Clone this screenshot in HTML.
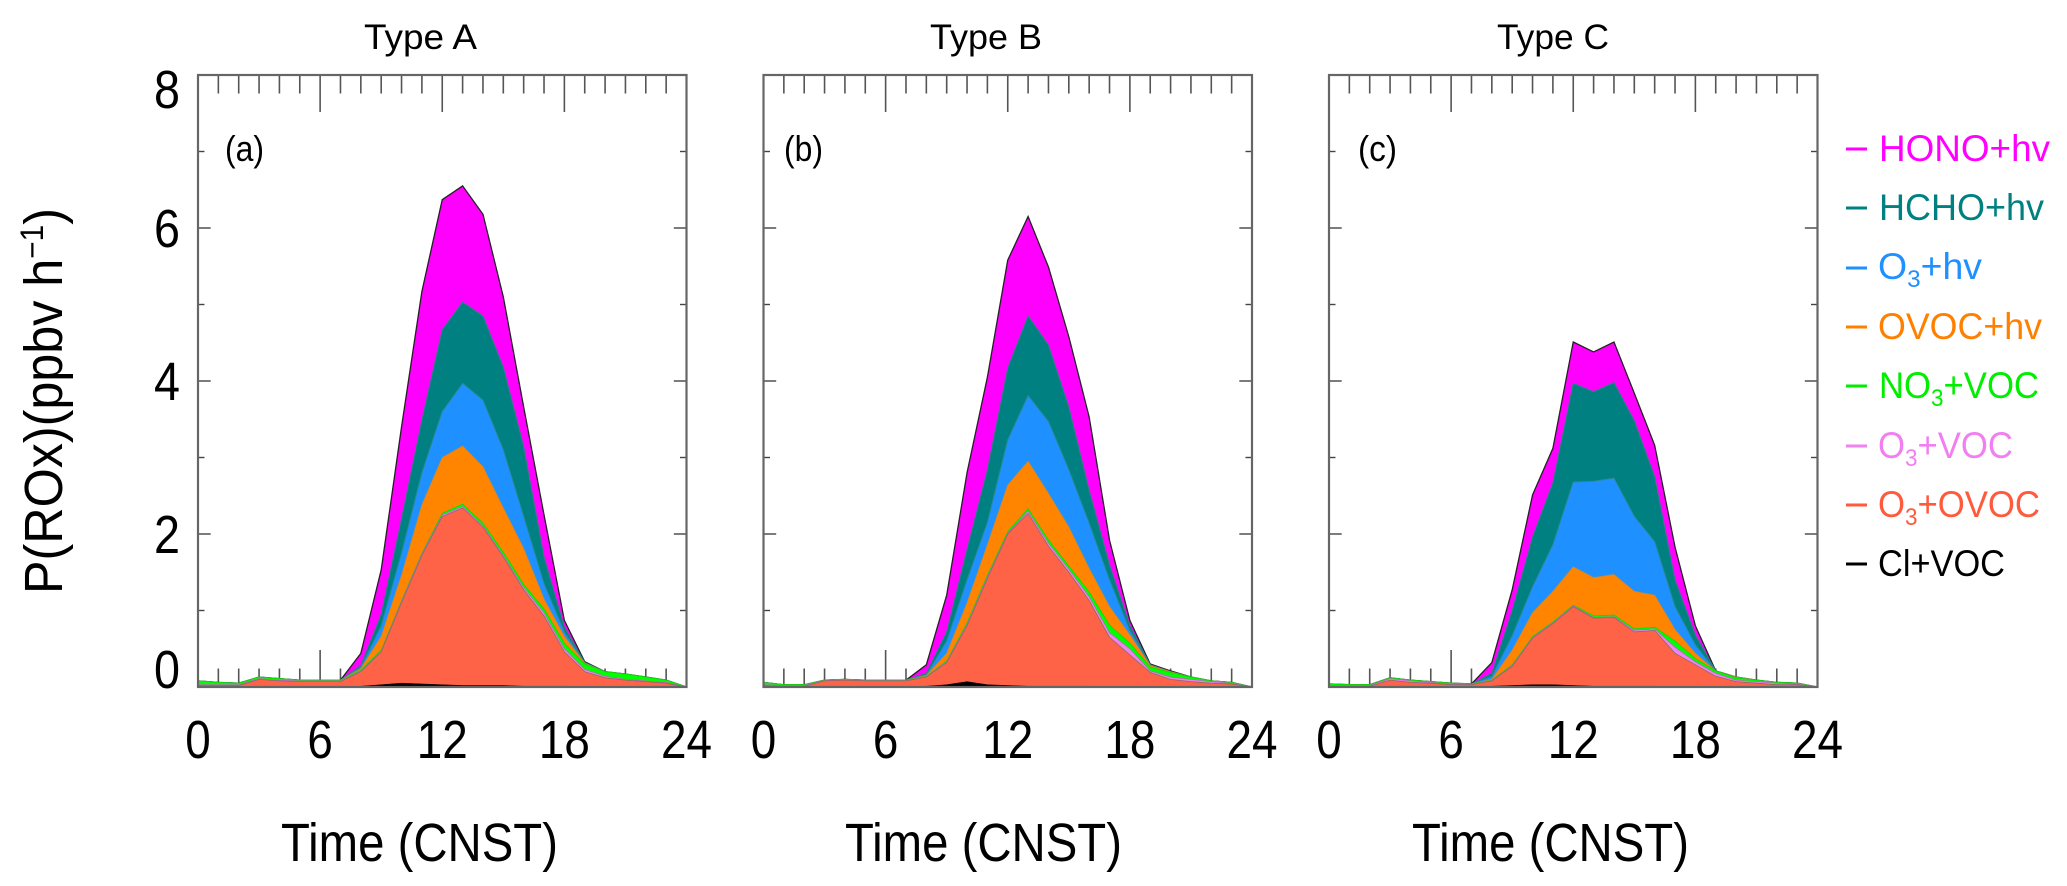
<!DOCTYPE html>
<html lang="en">
<head>
<meta charset="utf-8">
<title>P(ROx) budget by type</title>
<style>
html,body{margin:0;padding:0;background:#fff;}
svg{display:block;}
text{font-family:"Liberation Sans",sans-serif;fill:#000;}
</style>
</head>
<body>
<svg id="chart" xmlns="http://www.w3.org/2000/svg" width="2067" height="886" viewBox="0 0 2067 886">
  <rect x="0" y="0" width="2067" height="886" fill="#fff"/>
  <g id="panels"></g>

  <text transform="translate(62,594) rotate(-90)" font-size="54" textLength="386" lengthAdjust="spacingAndGlyphs">P(ROx)(ppbv h<tspan font-size="32" dy="-19">−1</tspan><tspan dy="19">)</tspan></text>

  <g>
    <g>
      <line x1="1846" x2="1867" y1="149" y2="149" stroke="#ff00ff" stroke-width="3"/>
      <text x="1879" y="161" font-size="37" style="fill:#ff00ff" textLength="171" lengthAdjust="spacingAndGlyphs">HONO+hv</text>
    </g>
    <g>
      <line x1="1846" x2="1867" y1="208" y2="208" stroke="#008080" stroke-width="3"/>
      <text x="1879" y="220" font-size="37" style="fill:#008080" textLength="165" lengthAdjust="spacingAndGlyphs">HCHO+hv</text>
    </g>
    <g>
      <line x1="1846" x2="1867" y1="268" y2="268" stroke="#1e90ff" stroke-width="3"/>
      <text x="1878" y="279" font-size="37" style="fill:#1e90ff" textLength="104" lengthAdjust="spacingAndGlyphs">O<tspan font-size="24" dy="8">3</tspan><tspan dy="-8">+hv</tspan></text>
    </g>
    <g>
      <line x1="1846" x2="1867" y1="327" y2="327" stroke="#ff8000" stroke-width="3"/>
      <text x="1878" y="339" font-size="37" style="fill:#ff8000" textLength="164" lengthAdjust="spacingAndGlyphs">OVOC+hv</text>
    </g>
    <g>
      <line x1="1846" x2="1867" y1="386" y2="386" stroke="#00ee00" stroke-width="3"/>
      <text x="1879" y="398" font-size="37" style="fill:#00ee00" textLength="160" lengthAdjust="spacingAndGlyphs">NO<tspan font-size="24" dy="8">3</tspan><tspan dy="-8">+VOC</tspan></text>
    </g>
    <g>
      <line x1="1846" x2="1867" y1="446" y2="446" stroke="#ee82ee" stroke-width="3"/>
      <text x="1878" y="458" font-size="37" style="fill:#f27ff2" textLength="135" lengthAdjust="spacingAndGlyphs">O<tspan font-size="24" dy="8">3</tspan><tspan dy="-8">+VOC</tspan></text>
    </g>
    <g>
      <line x1="1846" x2="1867" y1="505" y2="505" stroke="#ff5a3c" stroke-width="3"/>
      <text x="1878" y="517" font-size="37" style="fill:#ff5a3c" textLength="162" lengthAdjust="spacingAndGlyphs">O<tspan font-size="24" dy="8">3</tspan><tspan dy="-8">+OVOC</tspan></text>
    </g>
    <g>
      <line x1="1846" x2="1867" y1="564" y2="564" stroke="#000" stroke-width="3"/>
      <text x="1878" y="576" font-size="37" textLength="127" lengthAdjust="spacingAndGlyphs">Cl+VOC</text>
    </g>
  </g>
</svg>

<script>
// Values are the stacked top of each layer (ppbv/h), hours 0..24.
const hours = [0,1,2,3,4,5,6,7,8,9,10,11,12,13,14,15,16,17,18,19,20,21,22,23,24];
const xTickLabels = [0,6,12,18,24];
const yTickLabels = [0,2,4,6,8];

const typeA_hono   = [.08,.06,.05,.13,.11,.09,.09,.09,.44,1.53,3.40,5.17,6.37,6.55,6.18,5.10,3.66,2.25,.87,.33,.20,.17,.13,.09,0];
const typeA_hcho   = [.08,.06,.05,.13,.11,.09,.09,.09,.28,.95,2.20,3.49,4.67,5.03,4.85,4.18,3.14,1.70,.78,.32,.20,.17,.13,.09,0];
const typeA_o3hv   = [.08,.06,.05,.13,.11,.09,.09,.09,.26,.80,1.75,2.80,3.60,3.97,3.75,3.10,2.23,1.35,.72,.32,.20,.17,.13,.09,0];
const typeA_ovoc   = [.08,.06,.05,.13,.11,.09,.09,.09,.24,.66,1.46,2.38,3.00,3.15,2.88,2.34,1.81,1.15,.66,.31,.20,.17,.13,.09,0];
const typeA_no3    = [.08,.06,.05,.13,.11,.09,.09,.09,.22,.48,1.13,1.75,2.27,2.39,2.14,1.76,1.34,1.02,.57,.30,.20,.17,.13,.09,0];
const typeA_o3voc  = [.03,.03,.03,.11,.09,.08,.08,.08,.21,.47,1.12,1.74,2.25,2.36,2.11,1.72,1.30,.97,.50,.23,.14,.10,.08,.06,0];
const typeA_o3ovoc = [.02,.02,.02,.10,.08,.07,.07,.07,.20,.46,1.10,1.72,2.23,2.34,2.09,1.70,1.27,.93,.46,.20,.12,.09,.07,.05,0];
const typeA_cl     = [0,0,0,0,0,0,0,0,.01,.03,.05,.04,.03,.02,.02,.02,.01,.01,.01,0,0,0,0,0,0];

const typeB_hono   = [.06,.03,.03,.09,.10,.09,.09,.09,.29,1.20,2.80,4.05,5.58,6.15,5.49,4.58,3.53,1.92,.87,.30,.21,.13,.08,.06,0];
const typeB_hcho   = [.06,.03,.03,.09,.10,.09,.09,.09,.18,.72,1.80,2.84,4.17,4.85,4.47,3.66,2.57,1.60,.80,.29,.20,.13,.08,.06,0];
const typeB_o3hv   = [.06,.03,.03,.09,.10,.09,.09,.09,.16,.60,1.40,2.15,3.23,3.81,3.47,2.84,2.14,1.40,.74,.29,.20,.13,.08,.06,0];
const typeB_ovoc   = [.06,.03,.03,.09,.10,.09,.09,.09,.15,.44,1.10,1.86,2.64,2.95,2.53,2.09,1.55,1.05,.68,.28,.20,.13,.08,.06,0];
const typeB_no3    = [.06,.03,.03,.09,.10,.09,.09,.09,.14,.34,.84,1.46,2.03,2.33,1.92,1.58,1.24,.81,.57,.26,.19,.13,.08,.06,0];
const typeB_o3voc  = [.03,.02,.02,.085,.095,.085,.085,.085,.135,.33,.82,1.44,2.01,2.30,1.88,1.54,1.18,.71,.50,.21,.13,.10,.07,.05,0];
const typeB_o3ovoc = [.02,.01,.01,.08,.09,.08,.08,.08,.13,.32,.80,1.42,2.00,2.27,1.84,1.50,1.13,.65,.42,.19,.10,.07,.05,.04,0];
const typeB_cl     = [0,0,0,0,0,0,0,0,.01,.03,.07,.03,.02,.01,.01,.01,.01,0,0,0,0,0,0,0,0];

const typeC_hono   = [.04,.03,.03,.12,.09,.07,.05,.04,.32,1.27,2.51,3.12,4.51,4.38,4.51,3.84,3.16,1.83,.80,.21,.13,.09,.06,.05,0];
const typeC_hcho   = [.04,.03,.03,.12,.09,.07,.05,.04,.18,1.00,1.96,2.67,3.97,3.86,3.98,3.48,2.75,1.40,.68,.21,.13,.09,.06,.05,0];
const typeC_o3hv   = [.04,.03,.03,.12,.09,.07,.05,.04,.14,.67,1.31,1.86,2.68,2.69,2.73,2.23,1.90,1.05,.55,.21,.13,.09,.06,.05,0];
const typeC_ovoc   = [.04,.03,.03,.12,.09,.07,.05,.04,.10,.48,.97,1.25,1.57,1.43,1.47,1.25,1.20,.75,.44,.21,.13,.09,.06,.05,0];
const typeC_no3    = [.04,.03,.03,.12,.09,.07,.05,.04,.09,.29,.66,.85,1.07,.93,.94,.76,.78,.60,.37,.21,.12,.09,.06,.05,0];
const typeC_o3voc  = [.02,.02,.02,.11,.08,.06,.04,.035,.085,.28,.65,.84,1.06,.91,.92,.74,.76,.52,.33,.18,.09,.07,.05,.04,0];
const typeC_o3ovoc = [.01,.01,.01,.09,.06,.05,.03,.03,.08,.27,.64,.83,1.05,.90,.91,.72,.74,.44,.29,.14,.07,.05,.03,.03,0];
const typeC_cl     = [0,0,0,0,0,0,0,0,.01,.02,.03,.03,.02,.01,.01,.01,.01,0,0,0,0,0,0,0,0];

const NS = 'http://www.w3.org/2000/svg';
const panelsRoot = document.getElementById('panels');
const plotTop = 75;
const plotBottom = 687;
const plotWidth = 488.5;
const yMax = 8;
const xMax = 24;

const layerStyles = {
  hono:   {fill:'#ff00ff', stroke:'#222222', width:1.3},
  hcho:   {fill:'#008080', stroke:'#2f7f86', width:1},
  o3hv:   {fill:'#1e90ff', stroke:'#2a8a9a', width:1},
  ovoc:   {fill:'#ff8500', stroke:'#c98a30', width:.8},
  no3:    {fill:'#00ff00', stroke:'#00e000', width:.8},
  o3voc:  {fill:'#ee82ee', stroke:'#b070b0', width:.8},
  o3ovoc: {fill:'#ff6347', stroke:'#8a6a60', width:.8},
  cl:     {fill:'#000000', stroke:'#000000', width:.5}
};

function scaleY(v){ return plotBottom - (plotBottom - plotTop) * v / yMax; }

function svgEl(tag, attrs, parent){
  const el = document.createElementNS(NS, tag);
  for (const k in attrs) el.setAttribute(k, attrs[k]);
  parent.appendChild(el);
  return el;
}

function drawPanel(key, left, title, tag, tagX, titleX, titleW, axisTitleX, layers){
  const scaleX = h => left + plotWidth * h / xMax;
  const right = scaleX(xMax);
  const g = svgEl('g', {}, panelsRoot);
  
  

  // x ticks (top & bottom) sit beneath the areas
  hours.forEach(h => {
    if (h === 0 || h === xMax) return;
    const major = h % 6 === 0;
    const len = major ? 37 : 18.5;
    const topTick = svgEl('line', {x1:scaleX(h), x2:scaleX(h), y1:plotTop, y2:plotTop + len, stroke:'#555', 'stroke-width':1.6}, g);
    
    
    const botTick = svgEl('line', {x1:scaleX(h), x2:scaleX(h), y1:plotBottom, y2:plotBottom - len, stroke:'#555', 'stroke-width':1.6}, g);
    
    
  });

  // y ticks on both sides, major every 2 and minor every 1
  for (let v = 1; v < yMax; v++) {
    const len = v % 2 === 0 ? 12.7 : 6.5;
    const yy = scaleY(v);
    const lt = svgEl('line', {x1:left, x2:left + len, y1:yy, y2:yy, stroke:'#444', 'stroke-width':1.4}, g);
    
    
    const rt = svgEl('line', {x1:right, x2:right - len, y1:yy, y2:yy, stroke:'#444', 'stroke-width':1.4}, g);
    
    
  }

  // stacked areas, painted from the tallest layer down
  layers.forEach(layer => {
    const st = layerStyles[layer.id];
    const pts = layer.values.map((v, i) => scaleX(hours[i]).toFixed(2) + ',' + scaleY(v).toFixed(2));
    pts.push(scaleX(xMax).toFixed(2) + ',' + scaleY(0).toFixed(2));
    pts.push(scaleX(0).toFixed(2) + ',' + scaleY(0).toFixed(2));
    const poly = svgEl('polygon', {points:pts.join(' '), fill:st.fill, stroke:st.stroke, 'stroke-width':st.width, 'stroke-linejoin':'miter'}, g);
    
    
  });

  const frame = svgEl('rect', {x:left, y:plotTop, width:plotWidth, height:plotBottom - plotTop, fill:'none', stroke:'#666', 'stroke-width':2.2}, g);
  
  

  xTickLabels.forEach(lbl => {
    const s = String(lbl);
    const t = svgEl('text', {x:scaleX(lbl), y:758, 'font-size':54, 'text-anchor':'middle', textLength:25.5 * s.length, lengthAdjust:'spacingAndGlyphs'}, g);
    t.textContent = s;
    
    
  });

  const panelTitle = svgEl('text', {x:titleX, y:49, 'font-size':35, textLength:titleW, lengthAdjust:'spacingAndGlyphs'}, g);
  panelTitle.textContent = title;
  
  

  const panelTag = svgEl('text', {x:tagX, y:161, 'font-size':36, textLength:39, lengthAdjust:'spacingAndGlyphs'}, g);
  panelTag.textContent = tag;
  
  

  const axisTitle = svgEl('text', {x:axisTitleX, y:861, 'font-size':54, textLength:277, lengthAdjust:'spacingAndGlyphs'}, g);
  axisTitle.textContent = 'Time (CNST)';
  
  
}

drawPanel('type-a', 198, 'Type A', '(a)', 225, 364, 113, 281, [
  {id:'hono', values:typeA_hono}, {id:'hcho', values:typeA_hcho}, {id:'o3hv', values:typeA_o3hv},
  {id:'ovoc', values:typeA_ovoc}, {id:'no3', values:typeA_no3}, {id:'o3voc', values:typeA_o3voc},
  {id:'o3ovoc', values:typeA_o3ovoc}, {id:'cl', values:typeA_cl}
]);
drawPanel('type-b', 763.5, 'Type B', '(b)', 784, 930, 112, 845, [
  {id:'hono', values:typeB_hono}, {id:'hcho', values:typeB_hcho}, {id:'o3hv', values:typeB_o3hv},
  {id:'ovoc', values:typeB_ovoc}, {id:'no3', values:typeB_no3}, {id:'o3voc', values:typeB_o3voc},
  {id:'o3ovoc', values:typeB_o3ovoc}, {id:'cl', values:typeB_cl}
]);
drawPanel('type-c', 1329, 'Type C', '(c)', 1358, 1497, 112, 1412, [
  {id:'hono', values:typeC_hono}, {id:'hcho', values:typeC_hcho}, {id:'o3hv', values:typeC_o3hv},
  {id:'ovoc', values:typeC_ovoc}, {id:'no3', values:typeC_no3}, {id:'o3voc', values:typeC_o3voc},
  {id:'o3ovoc', values:typeC_o3ovoc}, {id:'cl', values:typeC_cl}
]);

// y tick labels for the first panel only; end labels are nudged inside as in the figure
yTickLabels.forEach(lbl => {
  const nudge = lbl === yTickLabels[yTickLabels.length - 1] ? 33 : (lbl === yTickLabels[0] ? 1 : 19);
  const t = svgEl('text', {x:180, y:scaleY(lbl) + nudge, 'font-size':54, 'text-anchor':'end', textLength:26, lengthAdjust:'spacingAndGlyphs'}, panelsRoot);
  t.textContent = String(lbl);
  
  
});
</script>
</body>
</html>
